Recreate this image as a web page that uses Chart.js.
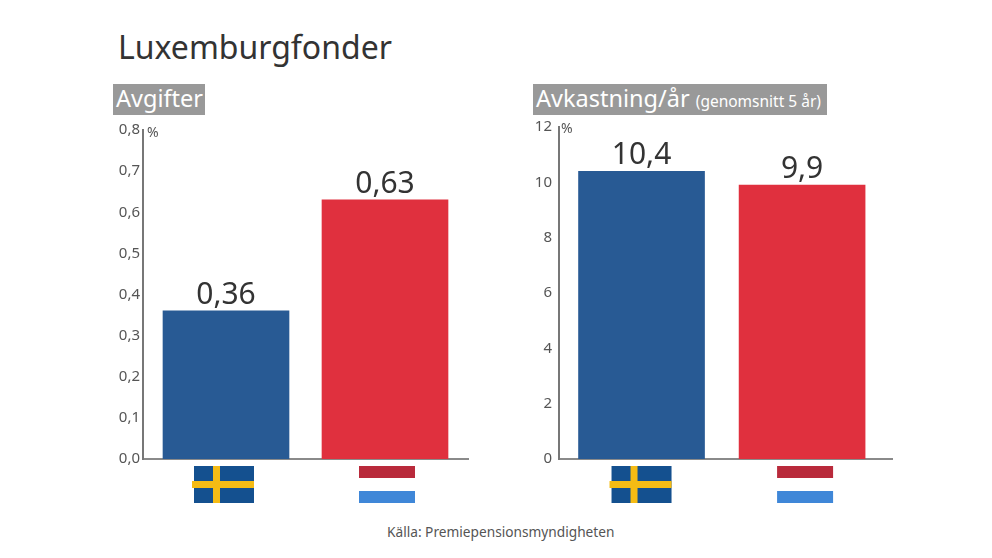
<!DOCTYPE html>
<html lang="sv">
<head>
<meta charset="utf-8">
<title>Luxemburgfonder</title>
<script src="https://cdn.jsdelivr.net/npm/chart.js@4"></script>
<style>
html,body{margin:0;padding:0;background:#fff;width:992px;height:558px;overflow:hidden;font-family:"Noto Sans",sans-serif}
.t{position:absolute;white-space:nowrap}
#title{left:118px;top:26px;font-size:32px;line-height:42px;color:#333}
.badge{background:#999;color:#fff;top:84px;height:31px;line-height:29px;font-size:23.5px;box-sizing:border-box;padding-left:3px}
#b1{left:113px;width:92px}
#b2{left:533px;width:294px}
#b2 small{font-size:15.5px}
#src{left:387px;top:523px;font-size:13.7px;line-height:18px;color:#555}
canvas{position:absolute}
</style>
</head>
<body>
<div class="t" id="title">Luxemburgfonder</div>
<div class="t badge" id="b1">Avgifter</div>
<div class="t badge" id="b2">Avkastning/år <small>(genomsnitt 5 år)</small></div>
<div class="t" id="src">Källa: Premiepensionsmyndigheten</div>
<div style="position:absolute;left:100px;top:110px;width:380px;height:400px"><canvas id="c1" style="left:0;top:0"></canvas></div>
<div style="position:absolute;left:520px;top:110px;width:380px;height:400px"><canvas id="c2" style="left:0;top:0"></canvas></div>
<script>
const categories = ["Sverige", "Luxemburg"];
const avgifter = [0.36, 0.63];
const avkastning = [10.4, 9.9];
const avgifterTicks = [0, 0.1, 0.2, 0.3, 0.4, 0.5, 0.6, 0.7, 0.8];
const avkastningTicks = [0, 2, 4, 6, 8, 10, 12];
const barColors = ["#285a94", "#e0303e"];

const comma = (v, d) => v.toFixed(d).replace(".", ",");

function drawFlag(ctx, name, cx) {
  const top = 356, bottom = 393;
  if (name === "Sverige") {
    ctx.fillStyle = "#14508f";
    ctx.fillRect(cx - 30, top, 60, bottom - top);
    ctx.fillStyle = "#f5bb14";
    ctx.fillRect(cx - 11, top, 7, bottom - top);
    ctx.fillRect(cx - 32, top + 15, 62, 7);
  } else {
    ctx.fillStyle = "#b92a3b";
    ctx.fillRect(cx - 28, top, 56, 12);
    ctx.fillStyle = "#3f87d8";
    ctx.fillRect(cx - 28, bottom - 12, 56, 12);
  }
}

const marks = {
  id: "marks",
  afterDraw(chart, args, o) {
    const { ctx, scales: { x, y } } = chart;
    ctx.save();
    ctx.textBaseline = "alphabetic";
    chart.data.datasets[0].data.forEach((p, i) => {
      ctx.textAlign = "center";
      ctx.fillStyle = "#333";
      ctx.font = '30px "Noto Sans"';
      ctx.fillText(comma(p.y, o.decimals), x.getPixelForValue(p.x), y.getPixelForValue(p.y) - 7);
      drawFlag(ctx, categories[i], x.getPixelForValue(p.x) + o.flagShift[i]);
    });
    ctx.fillStyle = "#555";
    ctx.font = '14px "Noto Sans"';
    ctx.textAlign = "left";
    ctx.fillText("%", x.left + o.unitDx, o.unitY);
    ctx.restore();
  }
};

function build(id, values, ticks, decimals, xMin, xMax, barW, axisW, padRight, top, unitDx, unitY, flagShift, tickPad) {
  const canvas = document.getElementById(id);
  new Chart(canvas, {
    type: "bar",
    plugins: [marks],
    data: {
      datasets: [{
        data: values.map((v, i) => ({ x: i, y: v })),
        backgroundColor: barColors,
        barThickness: barW
      }]
    },
    options: {
      responsive: true,
      maintainAspectRatio: false,
      animation: false,
      layout: { padding: { top: top, right: padRight, bottom: 51, left: 0 } },
      plugins: {
        legend: { display: false },
        tooltip: { enabled: false },
        marks: { decimals, flagShift, unitDx, unitY }
      },
      scales: {
        x: {
          type: "linear",
          offset: false,
          min: xMin, max: xMax,
          afterFit: s => { s.height = 0; },
          grid: { display: false },
          border: { color: "#8a8a8a", width: 2 },
          ticks: { display: false }
        },
        y: {
          min: ticks[0],
          max: ticks[ticks.length - 1],
          afterFit: s => { s.width = axisW; },
          afterBuildTicks: s => { s.ticks = ticks.map(v => ({ value: v })); },
          grid: { display: false, drawTicks: false },
          border: { color: "#777", width: 2 },
          ticks: {
            color: "#555",
            padding: tickPad,
            font: { family: '"Noto Sans"', size: 15 },
            callback: v => comma(v, decimals === 2 ? 1 : 0)
          }
        }
      }
    }
  });
}

build("c1", avgifter, avgifterTicks, 2, -0.522, 1.522, 126, 43, 12, 20, 4, 27, [-2, 2], 3);
build("c2", avkastning, avkastningTicks, 1, -0.514, 1.56, 126, 39, 8, 17, 2, 23, [0, 3], 7);
</script>
</body>
</html>
